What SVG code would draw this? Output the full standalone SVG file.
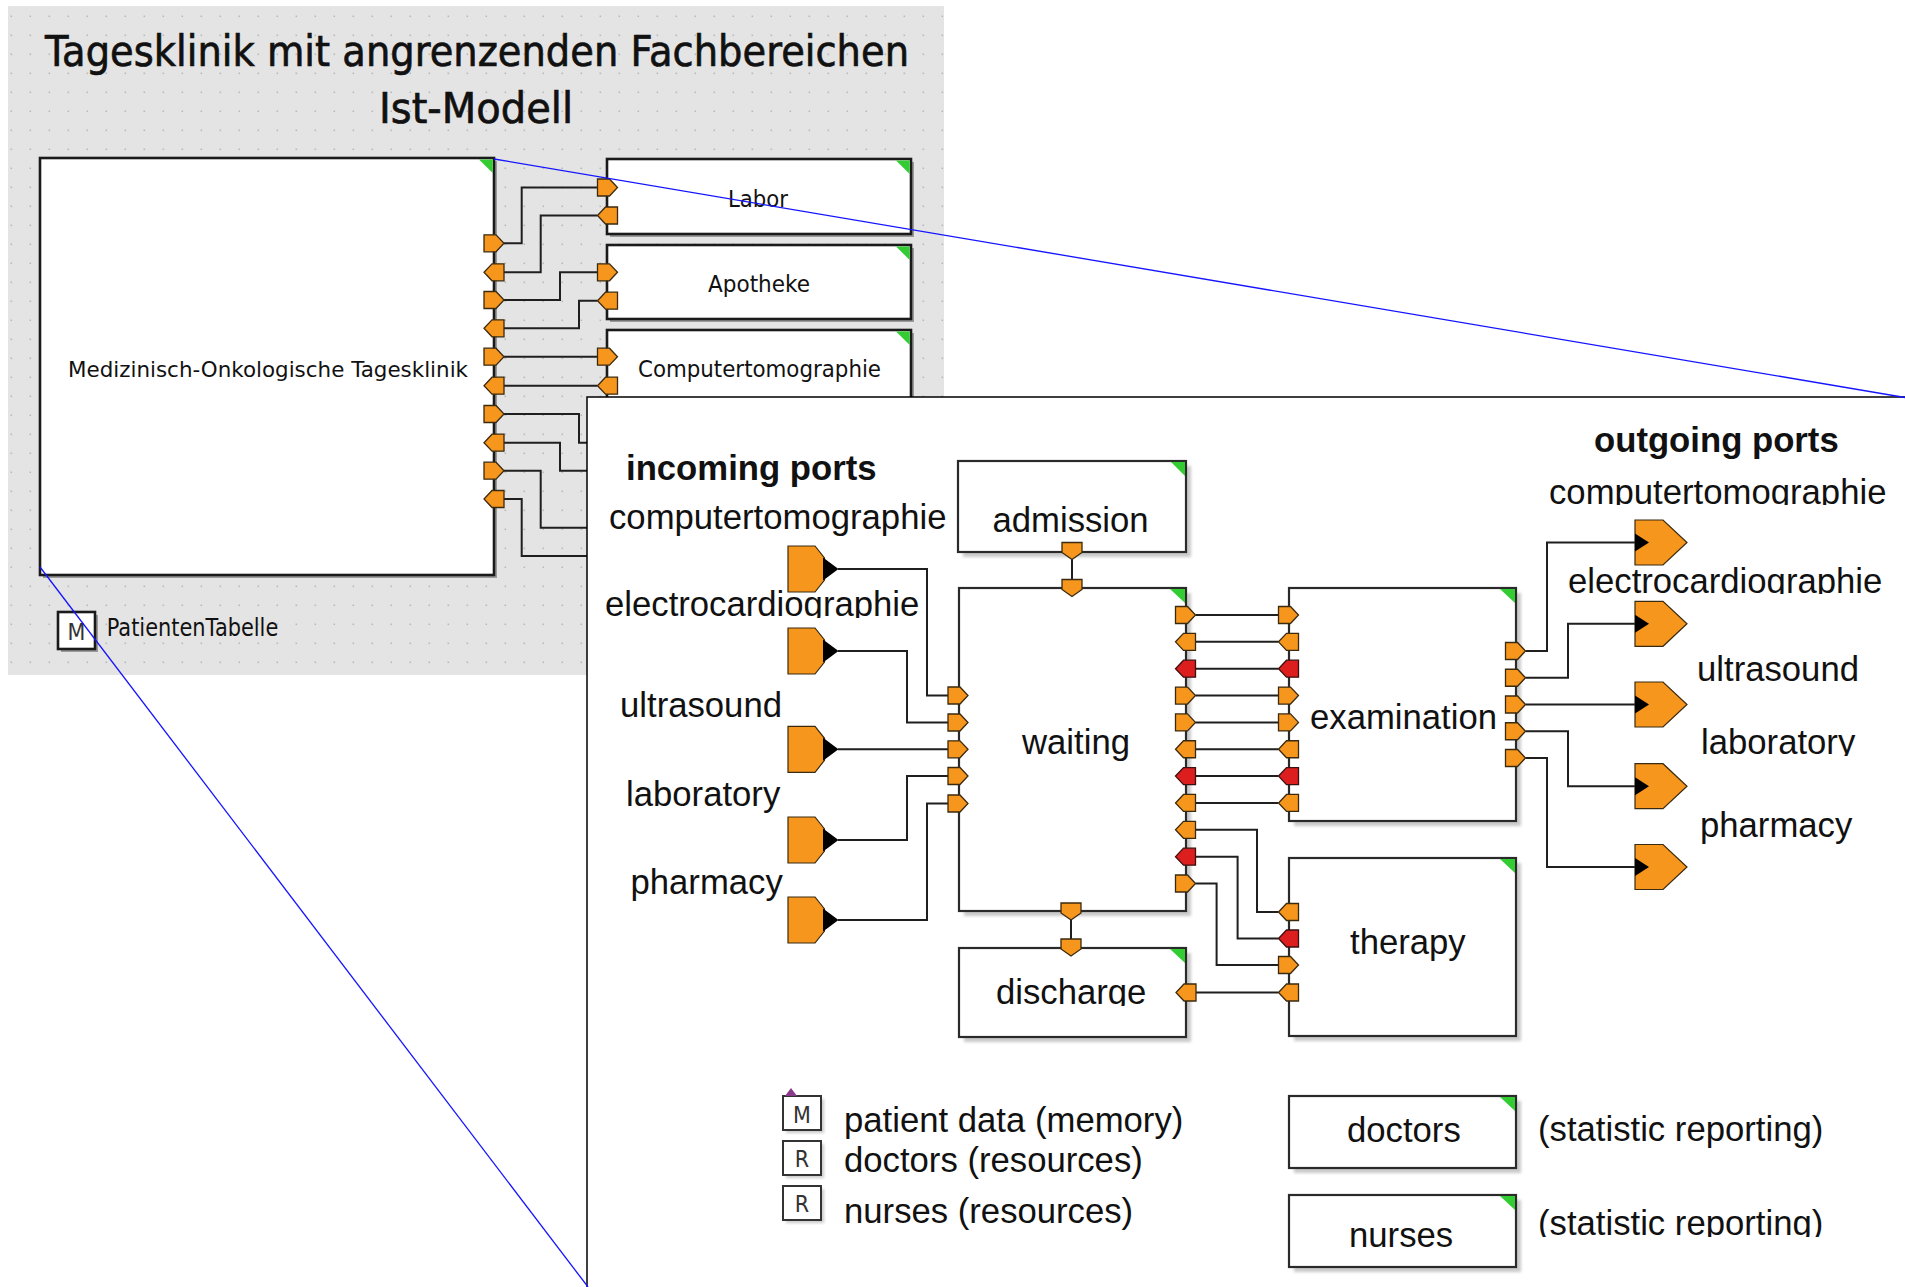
<svg xmlns="http://www.w3.org/2000/svg" xmlns:xlink="http://www.w3.org/1999/xlink" width="1905" height="1287" viewBox="0 0 1905 1287">
<style>
.sans{font-family:"DejaVu Sans","Liberation Sans",sans-serif;fill:#111}
.title{stroke:#111;stroke-width:0.7}
.lab{font-family:"Liberation Sans",Arial,sans-serif;font-size:34.7px;fill:#111}
.bold{font-weight:bold}
.box{fill:#fff;stroke:#2a2a2a;stroke-width:2.2}
.mbox{fill:#fff;stroke:#1a1a1a;stroke-width:2.6}
.shd{fill:#c9c9c9;filter:url(#blur)}
.mshd{fill:#9a9a9a}
.green{fill:#33CC33}
.po{fill:#F7961C;stroke:#3a2a10;stroke-width:1.3}
.pr{fill:#DC1E1E;stroke:#3a1010;stroke-width:1.3}
.big{fill:#F7961C;stroke:#3a2a10;stroke-width:1.2}
.tip{fill:#000}
.wire{fill:none;stroke:#1f1f1f;stroke-width:2}
.zoom{fill:none;stroke:#1414FF;stroke-width:1.3}
.leg{fill:#fff;stroke:#333;stroke-width:2}
.legt{font-family:"DejaVu Sans Condensed","DejaVu Sans",sans-serif;font-size:23px;fill:#333}
</style>
<defs>
<pattern id="dots" width="19" height="19" patternUnits="userSpaceOnUse">
<rect x="10.5" y="15.5" width="1.6" height="1.6" fill="#B9B9B9"/>
</pattern>
<filter id="blur" x="-5%" y="-5%" width="110%" height="110%"><feGaussianBlur stdDeviation="1.5"/></filter>
<polygon id="pR" points="-10,-8.5 2,-8.5 10,0 2,8.5 -10,8.5"/>
<polygon id="pL" points="10,-8.5 -2,-8.5 -10,0 -2,8.5 10,8.5"/>
<polygon id="pD" points="-10,-8.5 10,-8.5 10,1.5 0,8.5 -10,1.5"/>
<clipPath id="c-ecg-in"><rect x="590" y="575" width="345" height="43"/></clipPath>
<clipPath id="c-ct-out"><rect x="1540" y="465" width="365" height="40"/></clipPath>
<clipPath id="c-ecg-out"><rect x="1560" y="555" width="345" height="39"/></clipPath>
<clipPath id="c-lab-out"><rect x="1690" y="715" width="200" height="41"/></clipPath>
<clipPath id="c-dis"><rect x="980" y="965" width="200" height="41"/></clipPath>
<clipPath id="c-stat2"><rect x="1530" y="1195" width="330" height="42"/></clipPath>
</defs>

<!-- overview panel -->
<rect x="8" y="6" width="936" height="669" fill="#E4E4E4"/>
<rect x="8" y="6" width="936" height="669" fill="url(#dots)"/>
<text class="sans title" x="45" y="66" font-size="42" textLength="864" lengthAdjust="spacingAndGlyphs">Tagesklinik mit angrenzenden Fachbereichen</text>
<text class="sans title" x="379" y="123" font-size="42" textLength="194" lengthAdjust="spacingAndGlyphs">Ist-Modell</text>

<g id="overview-connectors">
<polyline class="wire" points="504,243.3 521.7,243.3 521.7,187.5 597.5,187.5"/>
<polyline class="wire" points="504,272.3 540.7,272.3 540.7,215.5 597.5,215.5"/>
<polyline class="wire" points="504,300 560,300 560,272.3 597.5,272.3"/>
<polyline class="wire" points="504,328.3 579,328.3 579,300.7 597.5,300.7"/>
<polyline class="wire" points="504,356.7 597.5,356.7"/>
<polyline class="wire" points="504,385.7 597.5,385.7"/>
<polyline class="wire" points="504,414 579,414 579,442.7 600,442.7"/>
<polyline class="wire" points="504,442.7 560,442.7 560,470.7 600,470.7"/>
<polyline class="wire" points="504,470.7 540.7,470.7 540.7,527.7 600,527.7"/>
<polyline class="wire" points="504,499 521.7,499 521.7,556 600,556"/>
</g>

<g id="node-tagesklinik">
<rect class="mshd" x="43" y="161" width="454" height="417"/>
<rect class="mbox" x="40" y="158" width="454" height="417"/>
<polygon class="green" points="479,159.5 492.7,159.5 492.7,173"/>
<text class="sans" x="68" y="377" font-size="22" textLength="400" lengthAdjust="spacingAndGlyphs">Medizinisch-Onkologische Tagesklinik</text>
<use xlink:href="#pR" class="po" x="494" y="243.3"/>
<use xlink:href="#pL" class="po" x="494" y="272.3"/>
<use xlink:href="#pR" class="po" x="494" y="300"/>
<use xlink:href="#pL" class="po" x="494" y="328.3"/>
<use xlink:href="#pR" class="po" x="494" y="356.7"/>
<use xlink:href="#pL" class="po" x="494" y="385.7"/>
<use xlink:href="#pR" class="po" x="494" y="414"/>
<use xlink:href="#pL" class="po" x="494" y="442.7"/>
<use xlink:href="#pR" class="po" x="494" y="470.7"/>
<use xlink:href="#pL" class="po" x="494" y="499"/>
</g>

<g id="node-labor">
<rect class="mshd" x="610" y="162" width="304" height="75"/>
<rect class="mbox" x="607" y="159" width="304" height="75"/>
<polygon class="green" points="896,160.5 909.7,160.5 909.7,174"/>
<text class="sans" x="728" y="206.7" font-size="23" textLength="60" lengthAdjust="spacingAndGlyphs">Labor</text>
<use xlink:href="#pR" class="po" x="607.5" y="187.5"/>
<use xlink:href="#pL" class="po" x="607.5" y="215.5"/>
</g>

<g id="node-apotheke">
<rect class="mshd" x="610" y="248" width="304" height="74"/>
<rect class="mbox" x="607" y="245" width="304" height="74"/>
<polygon class="green" points="896,246.5 909.7,246.5 909.7,260"/>
<text class="sans" x="708" y="292" font-size="23" textLength="102" lengthAdjust="spacingAndGlyphs">Apotheke</text>
<use xlink:href="#pR" class="po" x="607.5" y="272.3"/>
<use xlink:href="#pL" class="po" x="607.5" y="300.7"/>
</g>

<g id="node-computertomographie">
<rect class="mshd" x="610" y="333" width="304" height="100"/>
<rect class="mbox" x="607" y="330" width="304" height="100"/>
<polygon class="green" points="896,331.5 909.7,331.5 909.7,345"/>
<text class="sans" x="638" y="376.7" font-size="23" textLength="243" lengthAdjust="spacingAndGlyphs">Computertomographie</text>
<use xlink:href="#pR" class="po" x="607.5" y="356.7"/>
<use xlink:href="#pL" class="po" x="607.5" y="385.7"/>
</g>

<g id="node-patiententabelle">
<rect class="mshd" x="61" y="615" width="37" height="37"/>
<rect class="mbox" x="58" y="612" width="37" height="37" stroke-width="2.2"/>
<text class="legt" x="76.5" y="640" text-anchor="middle" fill="#111">M</text>
<text class="sans" x="106.7" y="636" font-size="24" textLength="171.6" lengthAdjust="spacingAndGlyphs">PatientenTabelle</text>
</g>

<!-- zoomed inset -->
<g id="inset">
<rect x="587" y="397" width="1330" height="900" fill="#fff"/>
<path d="M587,1295 V397 H1910" fill="none" stroke="#000" stroke-width="1.5"/>
</g>

<g id="connectors">
<polyline class="wire" points="838,569 927,569 927,695.5 948,695.5"/>
<polyline class="wire" points="838,651 907,651 907,722.5 948,722.5"/>
<polyline class="wire" points="838,749.3 948,749.3"/>
<polyline class="wire" points="838,840 907,840 907,776 948,776"/>
<polyline class="wire" points="838,920 927,920 927,803.5 948,803.5"/>
<polyline class="wire" points="1072,559 1072,580"/>
<polyline class="wire" points="1071,919 1071,940"/>
<polyline class="wire" points="1195.5,615 1278.5,615"/>
<polyline class="wire" points="1195.5,641.85 1278.5,641.85"/>
<polyline class="wire" points="1195.5,668.7 1278.5,668.7"/>
<polyline class="wire" points="1195.5,695.55 1278.5,695.55"/>
<polyline class="wire" points="1195.5,722.4 1278.5,722.4"/>
<polyline class="wire" points="1195.5,749.25 1278.5,749.25"/>
<polyline class="wire" points="1195.5,776.1 1278.5,776.1"/>
<polyline class="wire" points="1195.5,802.95 1278.5,802.95"/>
<polyline class="wire" points="1195.5,829.8 1257,829.8 1257,912 1278.5,912"/>
<polyline class="wire" points="1195.5,856.65 1237.6,856.65 1237.6,938.5 1278.5,938.5"/>
<polyline class="wire" points="1195.5,883.5 1216.6,883.5 1216.6,965 1278.5,965"/>
<polyline class="wire" points="1196,992.5 1278.5,992.5"/>
<polyline class="wire" points="1525.5,651 1547,651 1547,542.5 1636,542.5"/>
<polyline class="wire" points="1525.5,677.75 1568,677.75 1568,623.8 1636,623.8"/>
<polyline class="wire" points="1525.5,704.5 1636,704.5"/>
<polyline class="wire" points="1525.5,731.25 1568,731.25 1568,786.2 1636,786.2"/>
<polyline class="wire" points="1525.5,758 1547,758 1547,867 1636,867"/>
</g>

<text class="lab bold" x="626" y="480">incoming ports</text>
<text class="lab bold" x="1594" y="452">outgoing ports</text>

<g id="in-computertomographie">
<text class="lab" x="609" y="528.6">computertomographie</text>
<polygon class="big" points="788,546 815,546 824.5,558 824.5,580 815,592 788,592"/>
<polygon class="tip" points="823,557.5 838.5,569 823,580.5"/>
</g>
<g id="in-electrocardiographie">
<text class="lab" x="605" y="615.7" clip-path="url(#c-ecg-in)">electrocardiographie</text>
<polygon class="big" points="788,628 815,628 824.5,640 824.5,662 815,674 788,674"/>
<polygon class="tip" points="823,639.5 838.5,651 823,662.5"/>
</g>
<g id="in-ultrasound">
<text class="lab" x="620" y="717">ultrasound</text>
<polygon class="big" points="788,726.3 815,726.3 824.5,738.3 824.5,760.3 815,772.3 788,772.3"/>
<polygon class="tip" points="823,737.8 838.5,749.3 823,760.8"/>
</g>
<g id="in-laboratory">
<text class="lab" x="626" y="806">laboratory</text>
<polygon class="big" points="788,817 815,817 824.5,829 824.5,851 815,863 788,863"/>
<polygon class="tip" points="823,828.5 838.5,840 823,851.5"/>
</g>
<g id="in-pharmacy">
<text class="lab" x="630.5" y="894">pharmacy</text>
<polygon class="big" points="788,897 815,897 824.5,909 824.5,931 815,943 788,943"/>
<polygon class="tip" points="823,908.5 838.5,920 823,931.5"/>
</g>

<g id="out-computertomographie">
<text class="lab" x="1549" y="503.6" clip-path="url(#c-ct-out)">computertomographie</text>
<polygon class="big" points="1635,520 1663,520 1687,542.5 1663,565 1635,565"/>
<polygon class="tip" points="1635,533.5 1649,542.5 1635,551.5"/>
</g>
<g id="out-electrocardiographie">
<text class="lab" x="1568" y="592.5" clip-path="url(#c-ecg-out)">electrocardiographie</text>
<polygon class="big" points="1635,601.3 1663,601.3 1687,623.8 1663,646.3 1635,646.3"/>
<polygon class="tip" points="1635,614.8 1649,623.8 1635,632.8"/>
</g>
<g id="out-ultrasound">
<text class="lab" x="1697" y="681">ultrasound</text>
<polygon class="big" points="1635,682 1663,682 1687,704.5 1663,727 1635,727"/>
<polygon class="tip" points="1635,695.5 1649,704.5 1635,713.5"/>
</g>
<g id="out-laboratory">
<text class="lab" x="1701" y="754" clip-path="url(#c-lab-out)">laboratory</text>
<polygon class="big" points="1635,763.7 1663,763.7 1687,786.2 1663,808.7 1635,808.7"/>
<polygon class="tip" points="1635,777.2 1649,786.2 1635,795.2"/>
</g>
<g id="out-pharmacy">
<text class="lab" x="1700" y="837">pharmacy</text>
<polygon class="big" points="1635,844.5 1663,844.5 1687,867 1663,889.5 1635,889.5"/>
<polygon class="tip" points="1635,858 1649,867 1635,876"/>
</g>

<g id="node-admission">
<rect class="shd" x="963" y="466" width="228" height="91"/>
<rect class="box" x="958" y="461" width="228" height="91"/>
<polygon class="green" points="1171,462 1185,462 1185,476"/>
<text class="lab" x="992.5" y="532">admission</text>
<use xlink:href="#pD" class="po" x="1072" y="551"/>
</g>

<g id="node-waiting">
<rect class="shd" x="964" y="593" width="227" height="323"/>
<rect class="box" x="959" y="588" width="227" height="323"/>
<polygon class="green" points="1170,589 1185,589 1185,603"/>
<text class="lab" x="1022" y="754">waiting</text>
<use xlink:href="#pD" class="po" x="1072" y="588"/>
<use xlink:href="#pD" class="po" x="1071" y="911.5"/>
<use xlink:href="#pR" class="po" x="958" y="695.5"/>
<use xlink:href="#pR" class="po" x="958" y="722.5"/>
<use xlink:href="#pR" class="po" x="958" y="749.3"/>
<use xlink:href="#pR" class="po" x="958" y="776"/>
<use xlink:href="#pR" class="po" x="958" y="803.5"/>
<use xlink:href="#pR" class="po" x="1185.5" y="615"/>
<use xlink:href="#pL" class="po" x="1185.5" y="641.85"/>
<use xlink:href="#pL" class="pr" x="1185.5" y="668.7"/>
<use xlink:href="#pR" class="po" x="1185.5" y="695.55"/>
<use xlink:href="#pR" class="po" x="1185.5" y="722.4"/>
<use xlink:href="#pL" class="po" x="1185.5" y="749.25"/>
<use xlink:href="#pL" class="pr" x="1185.5" y="776.1"/>
<use xlink:href="#pL" class="po" x="1185.5" y="802.95"/>
<use xlink:href="#pL" class="po" x="1185.5" y="829.8"/>
<use xlink:href="#pL" class="pr" x="1185.5" y="856.65"/>
<use xlink:href="#pR" class="po" x="1185.5" y="883.5"/>
</g>

<g id="node-examination">
<rect class="shd" x="1294" y="593" width="227" height="233"/>
<rect class="box" x="1289" y="588" width="227" height="233"/>
<polygon class="green" points="1500,589 1515,589 1515,603"/>
<text class="lab" x="1310" y="729">examination</text>
<use xlink:href="#pR" class="po" x="1288.5" y="615"/>
<use xlink:href="#pL" class="po" x="1288.5" y="641.85"/>
<use xlink:href="#pL" class="pr" x="1288.5" y="668.7"/>
<use xlink:href="#pR" class="po" x="1288.5" y="695.55"/>
<use xlink:href="#pR" class="po" x="1288.5" y="722.4"/>
<use xlink:href="#pL" class="po" x="1288.5" y="749.25"/>
<use xlink:href="#pL" class="pr" x="1288.5" y="776.1"/>
<use xlink:href="#pL" class="po" x="1288.5" y="802.95"/>
<use xlink:href="#pR" class="po" x="1515.5" y="651"/>
<use xlink:href="#pR" class="po" x="1515.5" y="677.75"/>
<use xlink:href="#pR" class="po" x="1515.5" y="704.5"/>
<use xlink:href="#pR" class="po" x="1515.5" y="731.25"/>
<use xlink:href="#pR" class="po" x="1515.5" y="758"/>
</g>

<g id="node-therapy">
<rect class="shd" x="1294" y="863" width="227" height="178"/>
<rect class="box" x="1289" y="858" width="227" height="178"/>
<polygon class="green" points="1500,859 1515,859 1515,873"/>
<text class="lab" x="1350" y="954">therapy</text>
<use xlink:href="#pL" class="po" x="1288.5" y="912"/>
<use xlink:href="#pL" class="pr" x="1288.5" y="938.5"/>
<use xlink:href="#pR" class="po" x="1288.5" y="965"/>
<use xlink:href="#pL" class="po" x="1288.5" y="992.5"/>
</g>

<g id="node-discharge">
<rect class="shd" x="964" y="953" width="227" height="89"/>
<rect class="box" x="959" y="948" width="227" height="89"/>
<polygon class="green" points="1170,949 1185,949 1185,963"/>
<text class="lab" x="996" y="1004" clip-path="url(#c-dis)">discharge</text>
<use xlink:href="#pD" class="po" x="1071" y="947.5"/>
<use xlink:href="#pL" class="po" x="1186" y="992.5"/>
</g>

<g id="node-doctors">
<rect class="shd" x="1294" y="1101" width="227" height="72"/>
<rect class="box" x="1289" y="1096" width="227" height="72"/>
<polygon class="green" points="1500,1097 1515,1097 1515,1111"/>
<text class="lab" x="1347" y="1142">doctors</text>
<text class="lab" x="1538" y="1141">(statistic reporting)</text>
</g>

<g id="node-nurses">
<rect class="shd" x="1294" y="1200" width="227" height="72"/>
<rect class="box" x="1289" y="1195" width="227" height="72"/>
<polygon class="green" points="1500,1196 1515,1196 1515,1210"/>
<text class="lab" x="1349" y="1247">nurses</text>
<text class="lab" x="1538" y="1235" clip-path="url(#c-stat2)">(statistic reporting)</text>
</g>

<g id="legend-memory">
<rect class="shd" x="786" y="1099" width="38" height="34"/>
<rect class="leg" x="783" y="1096" width="38" height="34"/>
<polygon points="785,1096 791,1088 797,1096" fill="#8B3A8B"/>
<text class="legt" x="802" y="1123" text-anchor="middle">M</text>
<text class="lab" x="844" y="1132">patient data (memory)</text>
</g>
<g id="legend-doctors">
<rect class="shd" x="786" y="1144" width="38" height="34"/>
<rect class="leg" x="783" y="1141" width="38" height="34"/>
<text class="legt" x="802" y="1167" text-anchor="middle">R</text>
<text class="lab" x="844" y="1172">doctors (resources)</text>
</g>
<g id="legend-nurses">
<rect class="shd" x="786" y="1189" width="38" height="34"/>
<rect class="leg" x="783" y="1186" width="38" height="34"/>
<text class="legt" x="802" y="1212" text-anchor="middle">R</text>
<text class="lab" x="844" y="1223">nurses (resources)</text>
</g>

<g id="zoom-lines">
<line class="zoom" x1="494" y1="159" x2="1905" y2="397.5"/>
<line class="zoom" x1="40" y1="567" x2="588" y2="1287"/>
</g>
</svg>
